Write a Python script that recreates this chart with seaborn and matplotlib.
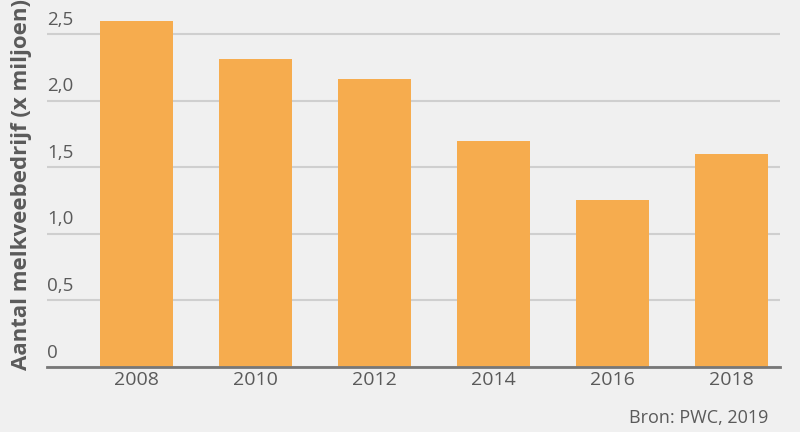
import matplotlib
matplotlib.use("Agg")
import matplotlib.pyplot as plt
import seaborn as sns
import pandas as pd

years = ["2008", "2010", "2012", "2014", "2016", "2018"]
values = [2.60, 2.31, 2.16, 1.70, 1.25, 1.60]
yticks = [0, 0.5, 1.0, 1.5, 2.0, 2.5]
ytick_labels = ["0", "0,5", "1,0", "1,5", "2,0", "2,5"]
ylabel = "Aantal melkveebedrijf (x miljoen)"
source = "Bron: PWC, 2019"

sns.set_style("white")
plt.rcParams["font.family"] = ["Open Sans", "DejaVu Sans"]

bg = "#F0F0F0"
bar_color = "#F6AC4E"
text_color = "#5A5A5A"

fig = plt.figure(figsize=(8, 4.32), dpi=100, facecolor=bg)
ax = fig.add_axes([47 / 800, 1 - 367 / 432, (780 - 47) / 800, (367 - 10) / 432])
ax.set_facecolor(bg)

df = pd.DataFrame({"year": years, "value": values})
sns.barplot(data=df, x="year", y="value", color=bar_color, saturation=1,
            width=0.61, ax=ax, zorder=3, linewidth=0, edgecolor="none")

ax.set_xlim(-0.75, 5.41)
ax.set_ylim(0, 2.68)

for sp in ["top", "right", "left"]:
    ax.spines[sp].set_visible(False)
ax.spines["bottom"].set_color("#777777")
ax.spines["bottom"].set_linewidth(2)
ax.spines["bottom"].set_zorder(4)

ax.set_yticks(yticks)
ax.set_yticklabels([])
ax.tick_params(axis="y", length=0)
ax.grid(axis="y", color="#CFCFCF", linewidth=1.5, zorder=0)
ax.set_axisbelow(True)

trans = ax.get_yaxis_transform()
for v, lab in zip(yticks, ytick_labels):
    ax.text(0.0, v + 0.04, lab, transform=trans, ha="left", va="bottom",
            fontsize=13.5, color=text_color, zorder=2)

ax.tick_params(axis="x", length=0, pad=3, labelsize=14, labelcolor=text_color)
ax.set_xlabel("")
ax.set_ylabel("")

fig.text(22 / 800, 1 - 185 / 432, ylabel, rotation=90, ha="center", va="center",
         fontsize=16, fontweight="bold", color=text_color)
fig.text(768 / 800, 1 - 418 / 432, source, ha="right", va="center",
         fontsize=13, color=text_color)

fig.savefig("out.png", dpi=100, facecolor=bg)
